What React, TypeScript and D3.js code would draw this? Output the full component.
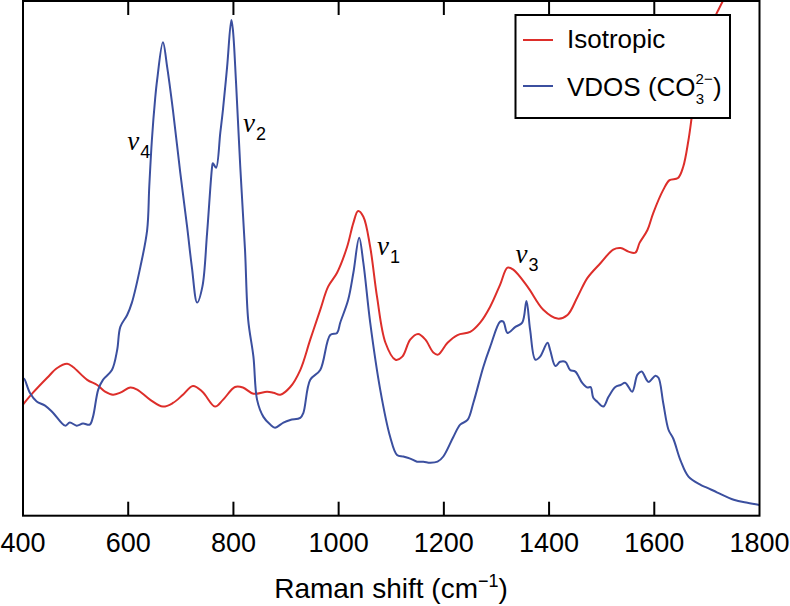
import React from 'react';
import * as d3 from 'd3';

// ---- data ----
const xTicks = [400, 600, 800, 1000, 1200, 1400, 1600, 1800];

const vdosWavenumber = [
  400, 402, 413, 426, 442, 457, 480, 489, 502, 514, 527, 533, 543, 552, 569, 579, 585, 598, 607, 623,
  636, 640, 645, 651, 655, 666, 674, 685, 699, 712, 721, 731, 741, 750, 760, 761, 767, 775, 780, 788,
  796, 799, 805, 813, 822, 828, 838, 845, 857, 870, 879, 895, 908, 927, 933, 946, 965, 984, 997, 1003,
  1018, 1028, 1039, 1047, 1060, 1079, 1098, 1111, 1123, 1136, 1149, 1161, 1174, 1188, 1199, 1218, 1231, 1245, 1256, 1275,
  1288, 1307, 1313, 1321, 1336, 1349, 1357, 1364, 1374, 1383, 1397, 1402, 1412, 1421, 1431, 1440, 1450, 1463, 1473, 1479,
  1484, 1492, 1503, 1513, 1526, 1536, 1545, 1558, 1568, 1576, 1589, 1602, 1608, 1617, 1627, 1636, 1650, 1665, 1688, 1701,
  1720, 1751, 1777, 1800,
];
const vdosIntensity = [
  26.4, 26.6, 23.9, 22.2, 21.4, 20.0, 17.5, 18.1, 17.5, 17.9, 17.7, 19.2, 24.5, 26.4, 28.3, 32.2, 36.7, 39.0, 41.4, 48.3,
  55.5, 63.9, 73.0, 80.8, 84.7, 92.0, 87.2, 78.8, 66.6, 56.1, 48.3, 41.4, 44.5, 55.0, 68.2, 68.5, 67.6, 74.4, 78.8, 87.2,
  96.3, 94.4, 84.1, 67.8, 51.7, 38.1, 30.9, 22.5, 19.2, 17.7, 17.1, 18.1, 18.6, 19.0, 20.0, 26.4, 28.3, 35.1, 35.5, 37.5,
  41.9, 47.2, 54.0, 49.1, 37.5, 24.5, 15.3, 11.8, 11.5, 11.1, 10.5, 10.5, 10.3, 10.5, 11.5, 15.3, 17.7, 18.6, 21.9, 28.9,
  32.8, 37.7, 37.7, 35.5, 36.7, 37.5, 41.7, 36.1, 30.3, 30.9, 33.6, 32.2, 29.1, 29.9, 29.9, 28.3, 28.0, 25.8, 24.9, 25.0,
  22.9, 22.1, 21.2, 23.1, 25.0, 25.4, 25.8, 24.1, 27.4, 28.0, 26.0, 27.2, 26.8, 21.9, 16.7, 15.0, 10.7, 7.6, 6.0, 5.4,
  4.5, 3.1, 2.5, 2.1,
];

const isoWavenumber = [
  400, 419, 446, 465, 484, 495, 522, 541, 556, 571, 585, 604, 617, 642, 666, 685, 704, 723, 741, 765,
  780, 803, 818, 838, 864, 876, 889, 908, 927, 946, 965, 980, 997, 1016, 1028, 1037, 1047, 1060, 1073, 1089,
  1108, 1121, 1136, 1151, 1165, 1180, 1189, 1207, 1226, 1250, 1269, 1288, 1307, 1321, 1332, 1359, 1389, 1416, 1435, 1454,
  1473, 1498, 1522, 1536, 1551, 1564, 1572, 1587, 1598, 1617, 1629, 1645, 1655, 1665, 1674, 1688, 1707, 1722, 1738,
];
const isoIntensity = [
  21.6, 23.9, 26.8, 28.7, 29.5, 28.9, 26.4, 25.4, 24.1, 23.5, 23.9, 24.9, 24.5, 22.5, 21.2, 21.9, 23.5, 25.2, 24.1, 21.2,
  22.5, 25.0, 24.9, 23.7, 24.1, 23.9, 23.5, 25.0, 28.3, 34.2, 40.0, 44.5, 47.2, 52.2, 56.9, 59.2, 58.1, 52.2, 42.5, 33.6,
  30.3, 30.9, 34.2, 35.3, 34.2, 31.7, 31.3, 33.6, 35.1, 35.7, 37.5, 40.6, 44.9, 48.2, 47.8, 44.5, 40.0, 38.3, 39.0, 42.5,
  46.2, 49.1, 51.7, 52.0, 51.3, 51.1, 53.0, 55.5, 58.8, 63.3, 65.2, 65.6, 67.8, 73.0, 79.4, 87.2, 95.0, 98.3, 101.5,
];

const seriesNames = ['Isotropic', 'VDOS'];
const seriesColors = ['#dd2e2a', '#3b4f9f'];

const peakSubscripts = ['4', '2', '1', '3'];
const peakWavenumbers = [598, 818, 1073, 1336];
const peakIntensities = [71.1, 74.6, 50.7, 49.1];

// ---- layout ----
const W = 790;
const H = 606;
const left = 23;
const right = 759.5;
const top = 1;
const bottom = 515.7;
const sans = 'Liberation Sans, Arial, Helvetica, sans-serif';
const serif = 'Liberation Serif, Times New Roman, serif';

export default function App() {
  const x = d3.scaleLinear().domain([400, 1800]).range([left, right]);
  const y = d3.scaleLinear().domain([0, 100]).range([bottom, top]);

  const line = d3
    .line<[number, number]>()
    .x((d) => x(d[0]))
    .y((d) => y(d[1]))
    .curve(d3.curveCatmullRom.alpha(0.5));

  const vdos = vdosWavenumber.map((w, i) => [w, vdosIntensity[i]] as [number, number]);
  const iso = isoWavenumber.map((w, i) => [w, isoIntensity[i]] as [number, number]);

  const tickLen = 14;
  const innerTicks = xTicks.filter((t) => t !== 400 && t !== 1800);

  // legend
  const lgX = 515.5;
  const lgY = 15;
  const lgW = 214.5;
  const lgH = 103;

  return (
    <svg
      width={W}
      height={H}
      style={{ position: 'absolute', left: 0, top: 0, background: '#fff' }}
      xmlns="http://www.w3.org/2000/svg"
    >
      <defs>
        <clipPath id="plotClip">
          <rect x={left} y={top} width={right - left} height={bottom - top} />
        </clipPath>
      </defs>
      <rect x={0} y={0} width={W} height={H} fill="#fff" />

      <g clipPath="url(#plotClip)">
        <path d={line(iso) || ''} fill="none" stroke={seriesColors[0]} strokeWidth={2} />
        <path d={line(vdos) || ''} fill="none" stroke={seriesColors[1]} strokeWidth={2} />
      </g>

      {/* frame */}
      <rect x={left} y={top} width={right - left} height={bottom - top} fill="none" stroke="#000" strokeWidth={2} />

      {/* ticks */}
      {innerTicks.map((t) => (
        <g key={t}>
          <line x1={x(t)} x2={x(t)} y1={bottom} y2={bottom - tickLen} stroke="#000" strokeWidth={2} />
          <line x1={x(t)} x2={x(t)} y1={top} y2={top + tickLen} stroke="#000" strokeWidth={2} />
        </g>
      ))}
      {xTicks.map((t) => (
        <text key={'l' + t} x={x(t)} y={552} textAnchor="middle" fontFamily={sans} fontSize={27} fill="#000">
          {t}
        </text>
      ))}

      {/* axis title */}
      <text x={391} y={598} textAnchor="middle" fontFamily={sans} fontSize={28} fill="#000">
        Raman shift (cm
        <tspan fontSize={18} dy={-11}>−1</tspan>
        <tspan dy={11}>)</tspan>
      </text>

      {/* peak labels */}
      {peakSubscripts.map((s, i) => (
        <text
          key={'p' + s}
          x={x(peakWavenumbers[i])}
          y={y(peakIntensities[i])}
          fontFamily={serif}
          fontStyle="italic"
          fontSize={27}
          fill="#000"
        >
          ν
          <tspan fontFamily={sans} fontStyle="normal" fontSize={18} dy={8} dx={1}>
            {s}
          </tspan>
        </text>
      ))}

      {/* legend */}
      <rect x={lgX} y={lgY} width={lgW} height={lgH} fill="#fff" stroke="#000" strokeWidth={2} />
      <line x1={523} x2={553} y1={40} y2={40} stroke={seriesColors[0]} strokeWidth={2} />
      <line x1={523} x2={553} y1={86} y2={86} stroke={seriesColors[1]} strokeWidth={2} />
      <text x={567} y={48} fontFamily={sans} fontSize={26} fill="#000">
        {seriesNames[0]}
      </text>
      <text x={567} y={96} fontFamily={sans} fontSize={26} fill="#000">
        {seriesNames[1]} (CO
        <tspan fontSize={15} dy={-12}>2−</tspan>
        <tspan fontSize={15} dx={-17} dy={20}>3</tspan>
        <tspan fontSize={26} dx={9} dy={-8}>)</tspan>
      </text>
    </svg>
  );
}
